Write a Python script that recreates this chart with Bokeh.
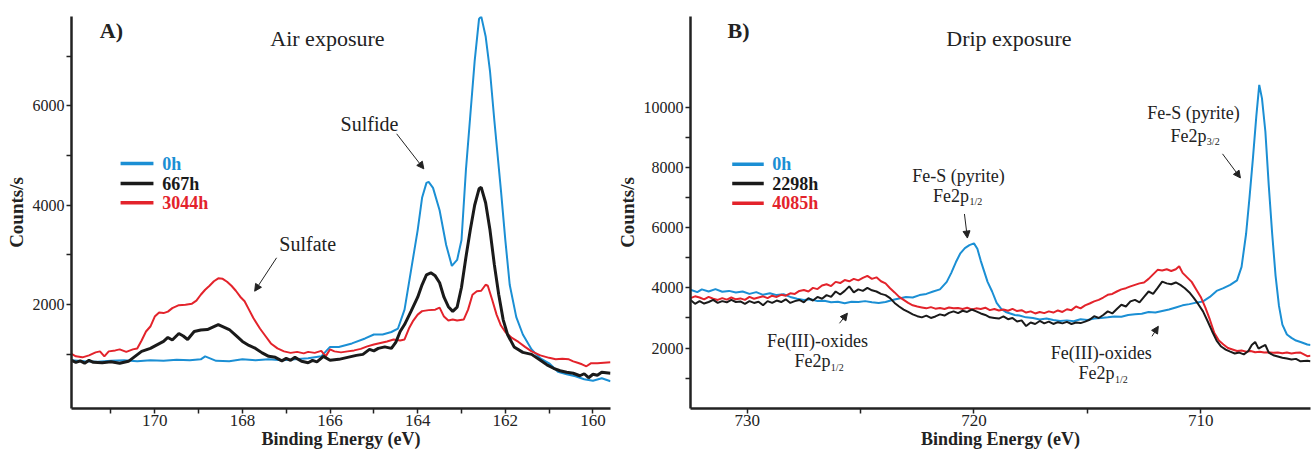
from bokeh.plotting import figure
from bokeh.models import Range1d, FixedTicker, Label, Arrow, NormalHead
from bokeh.layouts import row
from bokeh.embed import file_html
from bokeh.resources import INLINE

FONT = "Liberation Serif"
BLUE = "#1b8fd4"
BLACK = "#1a1a1a"
RED = "#e3232b"

# ---------------- Panel A: S2p, air exposure ----------------
a_blue_x = [171.9, 171.6, 171.3, 171.0, 170.7, 170.4, 170.1, 169.8, 169.5, 169.2, 168.95, 168.85, 168.6, 168.3, 168.0,
            167.7, 167.4, 167.1, 166.8, 166.5, 166.2, 166.0, 165.8, 165.5, 165.2, 165.0, 164.8, 164.6, 164.45, 164.3,
            164.15, 164.0, 163.9, 163.8, 163.75, 163.65, 163.5, 163.35, 163.22, 163.1, 163.0, 162.9, 162.8, 162.7,
            162.6, 162.55, 162.45, 162.35, 162.25, 162.1, 162.0, 161.9, 161.75, 161.6, 161.4, 161.2, 161.0, 160.8,
            160.6, 160.4, 160.2, 160.0, 159.8, 159.6]
a_blue_y = [880, 860, 850, 870, 880, 860, 880, 870, 890, 880, 900, 960, 870, 860, 900,
            880, 900, 880, 900, 920, 960, 1150, 1150, 1220, 1320, 1400, 1400, 1450, 1520, 1900,
            2700, 3500, 4150, 4450, 4470, 4350, 3900, 3200, 2780, 2900, 3300, 4700, 5800, 6900,
            7750, 7800, 7400, 6700, 5700, 4300, 3300, 2400, 1750, 1400, 1100, 920, 820, 650,
            600, 560, 500, 470, 520, 460]

a_black_x = [171.9, 171.8, 171.7, 171.6, 171.5, 171.4, 171.2, 171.0, 170.8, 170.6, 170.45, 170.3, 170.1, 169.95,
             169.8, 169.7, 169.6, 169.45, 169.35, 169.25, 169.1, 168.95, 168.8, 168.65, 168.55, 168.45, 168.3,
             168.15, 168.0, 167.85, 167.7, 167.55, 167.4, 167.25, 167.1, 167.0, 166.9, 166.8, 166.65, 166.5,
             166.4, 166.3, 166.15, 166.0, 165.8, 165.6, 165.4, 165.25, 165.1, 165.0, 164.9, 164.75, 164.6, 164.5,
             164.4, 164.3, 164.15, 164.0, 163.9, 163.8, 163.7, 163.6, 163.5, 163.4, 163.3, 163.2, 163.1, 163.0,
             162.9, 162.8, 162.7, 162.6, 162.55, 162.45, 162.35, 162.25, 162.15, 162.05, 161.95, 161.8, 161.6,
             161.4, 161.2, 161.05, 160.9, 160.75, 160.6, 160.45, 160.3, 160.2, 160.1, 160.0, 159.9, 159.8, 159.6]
a_black_y = [880, 840, 870, 820, 880, 840, 830, 850, 820, 860, 960, 1060, 1120, 1190,
             1260, 1340, 1290, 1420, 1370, 1300, 1460, 1490, 1500, 1560, 1600, 1560, 1500,
             1380, 1260, 1180, 1120, 1030, 960, 940, 870, 920, 880, 940, 860, 830,
             880, 850, 960, 880, 900, 940, 980, 1000, 1100, 1070, 1120, 1150, 1120, 1240,
             1460, 1600, 1870, 2150, 2400, 2600, 2640, 2580, 2440, 2150, 1960, 1865, 1950, 2350,
             2950, 3500, 4000, 4330, 4360, 4050, 3500, 2800, 2200, 1700, 1400, 1150, 1040,
             1000, 880, 790, 720, 670, 640, 620, 570, 610, 530, 600, 580, 640, 620]

a_red_x = [171.9, 171.8, 171.65, 171.5, 171.35, 171.25, 171.15, 171.05, 170.9, 170.8, 170.65, 170.5, 170.4, 170.3,
           170.2, 170.1, 170.0, 169.9, 169.8, 169.7, 169.6, 169.45, 169.3, 169.15, 169.05, 168.95, 168.85, 168.75,
           168.65, 168.55, 168.45, 168.35, 168.25, 168.15, 168.05, 167.95, 167.85, 167.75, 167.6, 167.5, 167.35,
           167.2, 167.05, 166.9, 166.75, 166.6, 166.5, 166.35, 166.2, 166.1, 166.0, 165.9, 165.75, 165.6, 165.45,
           165.3, 165.15, 165.0, 164.85, 164.7, 164.55, 164.4, 164.3, 164.2, 164.1, 164.0, 163.9, 163.75, 163.6,
           163.5, 163.4, 163.3, 163.2, 163.1, 162.95, 162.85, 162.75, 162.65, 162.55, 162.45, 162.4, 162.3, 162.2,
           162.1, 162.0, 161.85, 161.7, 161.55, 161.4, 161.2, 161.0, 160.85, 160.7, 160.55, 160.45, 160.35,
           160.25, 160.15, 160.05, 159.9, 159.75, 159.6]
a_red_y = [1010, 960, 940, 980, 1040, 1060, 960, 1060, 1080, 1100, 1050, 1100, 1120, 1280,
           1460, 1560, 1760, 1840, 1830, 1860, 1930, 1990, 2000, 2020, 2080, 2200, 2300, 2380,
           2470, 2530, 2520, 2460, 2380, 2280, 2160, 2070, 1900, 1730, 1520, 1400, 1220,
           1120, 1060, 1030, 1050, 1020, 1050, 1030, 1070, 960, 1100, 1060, 1040, 1060, 1080,
           1110, 1160, 1200, 1230, 1260, 1300, 1280, 1300, 1520, 1680, 1800, 1870, 1890, 1900,
           1940, 1760, 1680, 1700, 1680, 1700, 1900, 2200, 2270, 2280, 2400, 2380, 2100, 1800,
           1580, 1450, 1330, 1250, 1150, 1060, 980, 930, 900, 910, 900, 860, 830,
           800, 760, 820, 820, 830, 840]

a_labels = ["0h", "667h", "3044h"]

# ---------------- Panel B: Fe2p, drip exposure ----------------
b_blue_x = [732.5, 732.2, 732.0, 731.7, 731.4, 731.1, 730.8, 730.5, 730.2, 729.9, 729.6, 729.3, 729.0, 728.7, 728.4,
            728.1, 727.8, 727.5, 727.2, 726.9, 726.6, 726.3, 726.0, 725.7, 725.4, 725.1, 724.8, 724.5, 724.2, 723.9,
            723.6, 723.3, 723.0, 722.7, 722.4, 722.1, 721.8, 721.5, 721.2, 721.0, 720.8, 720.6, 720.4, 720.2, 720.0,
            719.85, 719.7, 719.55, 719.4, 719.2, 719.0, 718.8, 718.6, 718.4, 718.2, 718.0, 717.7, 717.4, 717.1,
            716.8, 716.5, 716.2, 715.9, 715.6, 715.3, 715.0, 714.7, 714.4, 714.1, 713.8, 713.5, 713.2, 712.9, 712.6,
            712.3, 712.0, 711.7, 711.4, 711.1, 710.8, 710.5, 710.2, 709.9, 709.6, 709.3, 709.0, 708.7, 708.4, 708.2,
            708.0, 707.85, 707.7, 707.55, 707.42, 707.3, 707.15, 707.0, 706.85, 706.7, 706.55, 706.4, 706.2, 706.0,
            705.8, 705.6, 705.3, 705.16]
b_blue_y = [3940, 3860, 3950, 3880, 3960, 3870, 3900, 3850, 3880, 3800, 3860, 3770, 3820, 3760, 3790,
            3700, 3640, 3600, 3620, 3560, 3570, 3520, 3540, 3490, 3540, 3530, 3560, 3520, 3500, 3530,
            3600, 3650, 3700, 3680, 3760, 3800, 3880, 3950, 4200, 4500, 4850, 5150, 5320, 5420, 5480,
            5300, 4900, 4550, 4200, 3880, 3500, 3300, 3200, 3150, 3100, 3080, 3020, 3000, 2950,
            2980, 2930, 2900, 2920, 2890, 2960, 2930, 2980, 3000, 3020, 3050, 3040, 3100, 3120, 3140,
            3200, 3180, 3230, 3280, 3350, 3420, 3460, 3510, 3550, 3700, 3900, 3990, 4100, 4250, 4700,
            5800, 7000, 8300, 9700, 10750, 10300, 9200, 7400, 5800, 4400, 3400, 2780, 2450, 2340,
            2250, 2200, 2120, 2100]

b_black_x = [732.5, 732.3, 732.1, 731.9, 731.7, 731.5, 731.3, 731.1, 730.9, 730.7, 730.5, 730.3, 730.1, 729.9,
             729.7, 729.5, 729.3, 729.1, 728.9, 728.7, 728.5, 728.3, 728.1, 727.9, 727.7, 727.5, 727.3, 727.1,
             726.9, 726.7, 726.5, 726.3, 726.1, 725.9, 725.7, 725.5, 725.3, 725.1, 724.9, 724.7, 724.5, 724.3,
             724.1, 723.9, 723.7, 723.5, 723.3, 723.1, 722.9, 722.7, 722.5, 722.3, 722.1, 721.9, 721.7, 721.5,
             721.3, 721.1, 720.9, 720.7, 720.5, 720.3, 720.1, 719.9, 719.7, 719.5, 719.3, 719.1, 718.9, 718.7,
             718.5, 718.3, 718.1, 717.9, 717.7, 717.5, 717.3, 717.1, 716.9, 716.7, 716.5, 716.3, 716.1, 715.9,
             715.7, 715.5, 715.3, 715.1, 714.9, 714.7, 714.5, 714.3, 714.1, 713.9, 713.7, 713.5, 713.3, 713.1,
             712.9, 712.7, 712.5, 712.3, 712.1, 711.9, 711.7, 711.5, 711.3, 711.1, 710.9, 710.7, 710.5, 710.3,
             710.1, 709.9, 709.7, 709.5, 709.3, 709.1, 708.9, 708.7, 708.5, 708.3, 708.1, 707.9, 707.75, 707.6,
             707.45, 707.3, 707.15, 707.0, 706.8, 706.6, 706.4, 706.2, 706.0, 705.8, 705.6, 705.3, 705.16]
b_black_y = [3600, 3470, 3560, 3480, 3530, 3600, 3500, 3560, 3520, 3600, 3530, 3550, 3470, 3560,
             3500, 3540, 3420, 3560, 3500, 3580, 3530, 3620, 3500, 3560, 3600, 3520, 3660, 3580,
             3700, 3640, 3760, 3700, 3880, 3780, 3900, 4050, 3850, 3950, 3900, 4000, 3920, 3880,
             3800, 3760, 3660, 3500, 3380, 3280, 3200, 3120, 3060, 3020, 3080, 3000, 3050, 3120,
             3080, 3170, 3220, 3160, 3240, 3200, 3280, 3220, 3150, 3100, 3020, 3000, 2980, 3050,
             2960, 3000, 2880, 2920, 2730, 2850, 2800, 2900, 2820, 2880, 2800, 2860, 2820, 2870,
             2800, 2850, 2830, 2880, 2940, 3060, 3000, 3100, 3220, 3150, 3300, 3440, 3380, 3550,
             3600, 3520, 3700, 3880, 3800, 4000, 4210, 4150, 4120, 4180, 4100, 3990, 3850, 3660,
             3450, 3220, 2900, 2560, 2250, 2050, 1950, 1880, 1820, 1850, 1790, 1900, 2100, 2200,
             1980, 2050, 2100, 1850, 1760, 1720, 1680, 1650, 1620, 1640, 1560, 1580, 1560]

b_red_x = [732.5, 732.3, 732.1, 731.9, 731.7, 731.5, 731.3, 731.1, 730.9, 730.7, 730.5, 730.3, 730.1, 729.9,
           729.7, 729.5, 729.3, 729.1, 728.9, 728.7, 728.5, 728.3, 728.1, 727.9, 727.7, 727.5, 727.3, 727.1,
           726.9, 726.7, 726.5, 726.3, 726.1, 725.9, 725.7, 725.5, 725.3, 725.1, 724.9, 724.7, 724.5, 724.3,
           724.1, 723.9, 723.7, 723.5, 723.3, 723.1, 722.9, 722.7, 722.5, 722.3, 722.1, 721.9, 721.7, 721.5,
           721.3, 721.1, 720.9, 720.7, 720.5, 720.3, 720.1, 719.9, 719.7, 719.5, 719.3, 719.1, 718.9, 718.7,
           718.5, 718.3, 718.1, 717.9, 717.7, 717.5, 717.3, 717.1, 716.9, 716.7, 716.5, 716.3, 716.1, 715.9,
           715.7, 715.5, 715.3, 715.1, 714.9, 714.7, 714.5, 714.3, 714.1, 713.9, 713.7, 713.5, 713.3, 713.1,
           712.9, 712.7, 712.5, 712.3, 712.1, 711.9, 711.7, 711.5, 711.3, 711.1, 710.95, 710.8, 710.6, 710.4,
           710.2, 710.0, 709.8, 709.6, 709.4, 709.2, 709.0, 708.8, 708.6, 708.4, 708.2, 708.0, 707.8, 707.6,
           707.4, 707.2, 707.0, 706.8, 706.6, 706.4, 706.2, 706.0, 705.8, 705.6, 705.3, 705.16]
b_red_y = [3660, 3720, 3680, 3620, 3700, 3640, 3600, 3660, 3610, 3680, 3620, 3650, 3600, 3700,
           3640, 3680, 3720, 3660, 3740, 3700, 3770, 3740, 3820, 3800, 3900, 3930, 3880, 4000,
           3960, 4080, 4120, 4060, 4200, 4160, 4260, 4220, 4300, 4250, 4330, 4400, 4300, 4350,
           4220, 4150, 3990, 3850, 3700, 3600, 3500, 3420, 3380, 3350, 3320, 3360, 3310, 3330,
           3300, 3350, 3320, 3330, 3300, 3340, 3280, 3320, 3300, 3340, 3260, 3300, 3250, 3280,
           3240, 3300, 3230, 3260, 3180, 3220, 3150, 3200, 3160, 3220, 3180, 3250, 3200, 3290,
           3260, 3380, 3320, 3420, 3480, 3550, 3600, 3680, 3770, 3800, 3880, 3950, 3990, 4050,
           4100, 4150, 4180, 4300, 4450, 4600, 4580, 4620, 4560, 4620, 4720, 4500, 4350, 4200,
           3950, 3700, 3350, 2950, 2500, 2250, 2120, 2000, 1950, 1900, 1920, 1880, 1900, 1860,
           1880, 1850, 1860, 1840, 1850, 1830, 1850, 1820, 1840, 1850, 1730, 1740]

b_labels = ["0h", "2298h", "4085h"]

a_xticks = [160, 162, 164, 166, 168, 170]
a_xminor = [161, 163, 165, 167, 169, 171]
a_yticks = [2000, 4000, 6000]
a_yminor = [1000, 3000, 5000, 7000]
b_xticks = [710, 720, 730]
b_xminor = [715, 725]
b_yticks = [2000, 4000, 6000, 8000, 10000]
b_yminor = [1000, 3000, 5000, 7000, 9000]


def style(p, xt, xm, yt, ym):
    p.xgrid.visible = False
    p.ygrid.visible = False
    p.outline_line_color = None
    p.xaxis.ticker = FixedTicker(ticks=xt, minor_ticks=xm)
    p.yaxis.ticker = FixedTicker(ticks=yt, minor_ticks=ym)
    for ax in (p.xaxis[0], p.yaxis[0]):
        ax.axis_line_width = 2.5
        ax.axis_line_color = "#222222"
        ax.major_tick_line_color = "#222222"
        ax.minor_tick_line_color = "#222222"
        ax.major_tick_line_width = 1.5
        ax.minor_tick_line_width = 1.5
        ax.major_tick_in = 0
        ax.major_tick_out = 5
        ax.minor_tick_in = 0
        ax.minor_tick_out = 5
        ax.major_label_text_font = FONT
        ax.major_label_text_color = "#222222"
        ax.axis_label_text_font = FONT
        ax.axis_label_text_font_style = "bold"
        ax.axis_label_text_color = "#222222"
    p.xaxis.major_label_text_font_size = "17px"
    p.yaxis.major_label_text_font_size = "16px"
    p.xaxis.axis_label_text_font_size = "18px"
    p.yaxis.axis_label_text_font_size = "19px"
    p.xaxis.major_label_standoff = 1
    p.xaxis.axis_label_standoff = 0
    p.yaxis.major_label_standoff = 2
    p.yaxis.axis_label_standoff = 3
    p.xaxis.axis_label = "Binding Energy (eV)"
    p.yaxis.axis_label = "Counts/s"


def lab(p, x, y, text, size="18px", style_="normal", color="#222222", align="center", baseline="middle"):
    p.add_layout(Label(x=x, y=y, text=text, text_font=FONT, text_font_size=size,
                       text_font_style=style_, text_color=color, text_align=align,
                       text_baseline=baseline))


def arrow(p, x0, y0, x1, y1):
    p.add_layout(Arrow(end=NormalHead(size=7, fill_color="#222222", line_color="#222222", line_width=1),
                       x_start=x0, y_start=y0, x_end=x1, y_end=y1,
                       line_color="#222222", line_width=1))


# ---------- figure A ----------
pA = figure(width=612, height=451, output_backend="svg", toolbar_location=None,
            x_range=Range1d(171.9, 159.6), y_range=Range1d(-89, 7797),
            min_border_left=71, min_border_right=2, min_border_top=16, min_border_bottom=30)
style(pA, a_xticks, a_xminor, a_yticks, a_yminor)
pA.line(a_blue_x, a_blue_y, line_color=BLUE, line_width=2)
pA.line(a_red_x, a_red_y, line_color=RED, line_width=2)
pA.line(a_black_x, a_black_y, line_color=BLACK, line_width=3)

lab(pA, 170.99, 7515, "A)", size="22px", style_="bold")
lab(pA, 166.06, 7354, "Air exposure", size="22px")
lab(pA, 165.10, 5639, "Sulfide", size="20px")
arrow(pA, 164.48, 5437, 163.86, 4732)
lab(pA, 166.51, 3219, "Sulfate", size="20px")
arrow(pA, 167.22, 2943, 167.72, 2271)

a_leg_y = [4839, 4435, 4052]
for lbl, col, yy in zip(a_labels, [BLUE, BLACK, RED], a_leg_y):
    pA.segment(x0=[170.78], y0=[yy], x1=[170.03], y1=[yy], line_color=col, line_width=3.5)
    lab(pA, 169.83, yy, lbl, size="18px", style_="bold", color=col, align="left")

# ---------- figure B ----------
pB = figure(width=703, height=451, output_backend="svg", toolbar_location=None,
            x_range=Range1d(732.5, 705.16), y_range=Range1d(-10, 13023),
            min_border_left=78, min_border_right=5, min_border_top=16, min_border_bottom=30)
style(pB, b_xticks, b_xminor, b_yticks, b_yminor)
pB.line(b_blue_x, b_blue_y, line_color=BLUE, line_width=2)
pB.line(b_red_x, b_red_y, line_color=RED, line_width=2)
pB.line(b_black_x, b_black_y, line_color=BLACK, line_width=2)

lab(pB, 730.38, 12557, "B)", size="22px", style_="bold")
lab(pB, 718.46, 12290, "Drip exposure", size="22px")

lab(pB, 720.68, 7723, "Fe-S (pyrite)")
lab(pB, 720.22, 7057, "Fe2p", align="right")
lab(pB, 720.20, 6857, "1/2", size="10px", align="left")
arrow(pB, 720.42, 6457, 720.29, 5657)

lab(pB, 710.32, 9823, "Fe-S (pyrite)")
lab(pB, 709.75, 9057, "Fe2p", align="right")
lab(pB, 709.73, 8857, "3/2", size="10px", align="left")
arrow(pB, 709.04, 8457, 708.25, 7657)

lab(pB, 726.90, 2223, "Fe(III)-oxides")
lab(pB, 726.33, 1557, "Fe2p", align="right")
lab(pB, 726.31, 1357, "1/2", size="10px", align="left")
arrow(pB, 725.93, 2823, 725.58, 3157)

lab(pB, 714.39, 1823, "Fe(III)-oxides")
lab(pB, 713.80, 1157, "Fe2p", align="right")
lab(pB, 713.78, 957, "1/2", size="10px", align="left")
arrow(pB, 712.15, 2390, 711.87, 2723)

b_leg_y = [8113, 7467, 6813]
for lbl, col, yy in zip(b_labels, [BLUE, BLACK, RED], b_leg_y):
    pB.segment(x0=[730.66], y0=[yy], x1=[729.27], y1=[yy], line_color=col, line_width=3.5)
    lab(pB, 728.90, yy, lbl, size="18px", style_="bold", color=col, align="left")

layout = row(pA, pB)
open("out.html", "w").write(file_html(layout, INLINE))
